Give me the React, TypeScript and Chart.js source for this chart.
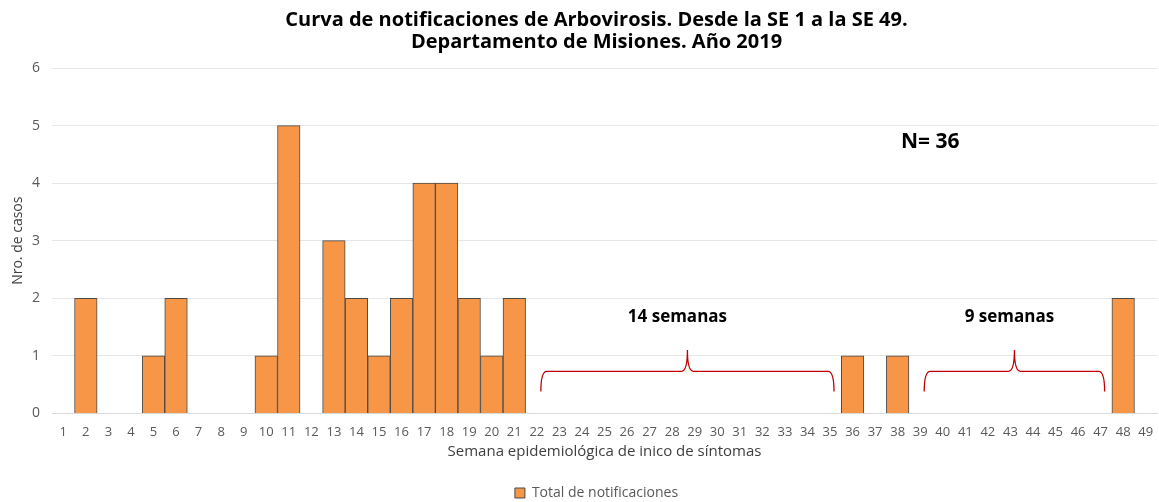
import React, { useEffect, useRef } from "react";
import { Chart, registerables } from "chart.js";

Chart.register(...registerables);

const titleLines = [
  "Curva de notificaciones de Arbovirosis. Desde la SE 1 a la SE 49.",
  "Departamento de Misiones. Año 2019",
];
const semanas = [
  "1", "2", "3", "4", "5", "6", "7", "8", "9", "10",
  "11", "12", "13", "14", "15", "16", "17", "18", "19", "20",
  "21", "22", "23", "24", "25", "26", "27", "28", "29", "30",
  "31", "32", "33", "34", "35", "36", "37", "38", "39", "40",
  "41", "42", "43", "44", "45", "46", "47", "48", "49",
];
const notificaciones = [
  0, 2, 0, 0, 1, 2, 0, 0, 0, 1,
  5, 0, 3, 2, 1, 2, 4, 4, 2, 1,
  2, 0, 0, 0, 0, 0, 0, 0, 0, 0,
  0, 0, 0, 0, 0, 1, 0, 1, 0, 0,
  0, 0, 0, 0, 0, 0, 0, 2, 0,
];
const yTicks = [0, 1, 2, 3, 4, 5, 6];
const seriesLabel = "Total de notificaciones";
const xTitle = "Semana epidemiológica de inico de síntomas";
const yTitle = "Nro. de casos";
// gaps: first and last week without cases
const gapFrom = ["22", "39"];
const gapTo = ["35", "47"];
const gapLabels = ["14 semanas", "9 semanas"];
const totalLabel = "N= 36";

const FONT = "'Open Sans', sans-serif";

const annotations = {
  id: "annotations",
  afterDatasetsDraw(chart: any) {
    const { ctx, scales, chartArea } = chart;
    const xs = scales.x;
    const ys = scales.y;
    ctx.save();
    for (let i = 0; i < gapFrom.length; i++) {
      const x1 = xs.getPixelForValue(semanas.indexOf(gapFrom[i])) + 4;
      const x2 = xs.getPixelForValue(semanas.indexOf(gapTo[i])) + 4;
      const xm = (x1 + x2) / 2;
      const yb = ys.getPixelForValue(0.38);
      const yh = ys.getPixelForValue(0.73);
      const yt = ys.getPixelForValue(1.1);
      const r = 6;
      ctx.beginPath();
      ctx.strokeStyle = "#C00000";
      ctx.lineWidth = 1.3;
      ctx.moveTo(x1, yb);
      ctx.quadraticCurveTo(x1, yh, x1 + r, yh);
      ctx.lineTo(xm - r, yh);
      ctx.quadraticCurveTo(xm, yh, xm, yt);
      ctx.quadraticCurveTo(xm, yh, xm + r, yh);
      ctx.lineTo(x2 - r, yh);
      ctx.quadraticCurveTo(x2, yh, x2, yb);
      ctx.stroke();
      ctx.fillStyle = "#000";
      ctx.font = `bold 17px ${FONT}`;
      ctx.textAlign = "center";
      ctx.textBaseline = "middle";
      ctx.fillText(gapLabels[i], xm - 10 + i * 5, ys.getPixelForValue(1.68));
    }
    ctx.font = `bold 21px ${FONT}`;
    ctx.textAlign = "left";
    ctx.textBaseline = "middle";
    ctx.fillStyle = "#000";
    ctx.fillText(totalLabel, xs.getPixelForValue(37.15), ys.getPixelForValue(4.72));

    // y tick labels
    ctx.font = `14px ${FONT}`;
    ctx.fillStyle = "#595959";
    ctx.textAlign = "right";
    ctx.textBaseline = "middle";
    for (const v of yTicks) {
      ctx.fillText(String(v), chartArea.left - 12, ys.getPixelForValue(v));
    }

    // y axis title
    ctx.translate(18, (chartArea.top + chartArea.bottom) / 2);
    ctx.rotate(-Math.PI / 2);
    ctx.font = `14px ${FONT}`;
    ctx.fillStyle = "#404040";
    ctx.textAlign = "center";
    ctx.textBaseline = "middle";
    ctx.fillText(yTitle, 0, 0);
    ctx.restore();
  },
};

export default function App() {
  const ref = useRef<HTMLCanvasElement | null>(null);
  useEffect(() => {
    if (!ref.current) return;
    const chart = new Chart(ref.current, {
      type: "bar",
      data: {
        labels: semanas,
        datasets: [
          {
            label: seriesLabel,
            data: notificaciones,
            backgroundColor: "#F79646",
            borderColor: "#4a4a4a",
            borderWidth: 1,
            barPercentage: 1,
            categoryPercentage: 1,
          },
        ],
      },
      options: {
        animation: false,
        responsive: true,
        maintainAspectRatio: false,
        layout: { padding: { left: 36, right: 2, top: 9, bottom: -8 } },
        plugins: {
          title: {
            display: true,
            text: titleLines,
            color: "#000",
            font: { family: FONT, size: 20, weight: "bold", lineHeight: 1.1 },
            padding: { top: 0, bottom: 15 },
          },
          legend: {
            position: "bottom",
            labels: {
              boxWidth: 10,
              boxHeight: 10,
              color: "#595959",
              font: { family: FONT, size: 14 },
              padding: 2,
            },
          },
          tooltip: { enabled: false },
        },
        scales: {
          x: {
            grid: { display: false },
            border: { color: "#d9d9d9" },
            ticks: {
              color: "#595959",
              font: { family: FONT, size: 13 },
              autoSkip: false,
              maxRotation: 0,
              padding: 3,
            },
            title: {
              display: true,
              text: xTitle,
              color: "#404040",
              font: { family: FONT, size: 15 },
              padding: { top: 0, bottom: 23 },
            },
          },
          y: {
            min: 0,
            max: 6,
            afterBuildTicks(scale: any) {
              scale.ticks = yTicks.map((v) => ({ value: v }));
            },
            afterFit(scale: any) {
              scale.width = 16;
            },
            grid: { color: "#e6e6e6", drawTicks: false },
            border: { display: false },
            ticks: { display: false },
            title: { display: false },
          },
        },
      },
      plugins: [annotations],
    });
    return () => chart.destroy();
  }, []);
  return (
    <div style={{ position: "fixed", left: 0, top: 0, width: 1159, height: 502, background: "#fff" }}>
      <canvas ref={ref} />
    </div>
  );
}
